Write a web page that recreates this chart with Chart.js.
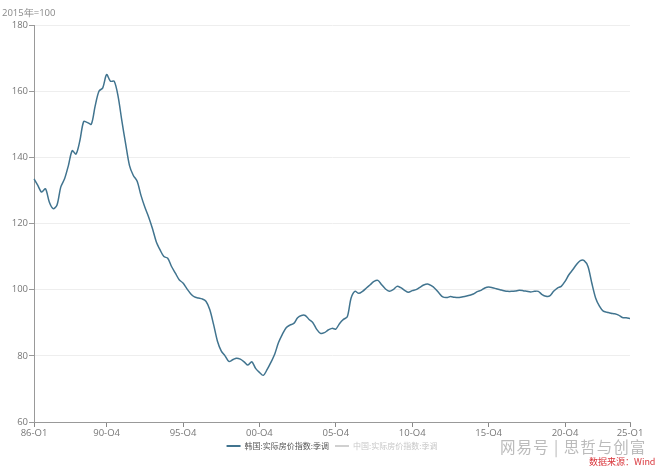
<!DOCTYPE html>
<html><head><meta charset="utf-8">
<script src="https://cdn.jsdelivr.net/npm/chart.js@4.4.1/dist/chart.umd.min.js"></script>
<style>
html,body{margin:0;padding:0;background:#fff;}
#wrap{position:relative;width:660px;height:469px;}
#unit{position:absolute;left:2px;top:6px;font:9.5px "Open Sans","DejaVu Sans",sans-serif;color:#888;}
#wm{position:absolute;left:500px;top:435px;font:15.5px "Noto Sans CJK SC",sans-serif;color:#bbb;letter-spacing:1px;}
#src{position:absolute;left:589px;top:455px;font:9px "Noto Sans CJK SC",sans-serif;color:#d9353b;}
</style></head>
<body><div id="wrap"><canvas id="c" width="660" height="469"></canvas>
<div id="unit">2015年=100</div>
<div id="wm">网易号 | 思哲与创富</div>
<div id="src">数据来源：Wind</div></div>
<script>
const startYear = 1986, startQuarter = 1, endYear = 2025, endQuarter = 1;
const tickLabels = ["86-Q1","90-Q4","95-Q4","00-Q4","05-Q4","10-Q4","15-Q4","20-Q4","25-Q1"];
const seriesNames = ["韩国:实际房价指数:季调","中国:实际房价指数:季调"];
const koreaValues = [
133.5,131.5,129.5,130.5,126.5,124.5,125.5,131,133.5,137.5,
142,141,145,150.8,150.5,150,155.5,160,161,165,
163,163,158.5,151,144,137.5,134.5,132.8,128.5,125,
122,118.5,114.5,112,110,109.5,107,105,103,102,
100.3,98.8,97.8,97.5,97.2,96.5,94,89.5,84.5,81.5,
80,78.3,78.8,79.3,79,78.2,77.2,78.2,76.2,75,
74.1,75.8,78,80.5,84,86.5,88.5,89.3,89.8,91.5,
92.2,92.2,91,90,88,86.8,87,87.8,88.3,88.1,
89.8,91,91.8,97.5,99.5,98.9,99.5,100.5,101.5,102.5,
102.8,101.5,100.2,99.5,100,101,100.6,99.8,99.2,99.7,
100,100.7,101.4,101.7,101.2,100.3,99,97.8,97.6,97.9,
97.7,97.6,97.8,98,98.3,98.7,99.4,99.8,100.5,100.8,
100.6,100.3,100,99.7,99.5,99.5,99.6,99.8,99.7,99.5,
99.3,99.5,99.5,98.5,98,98.1,99.5,100.5,101,102.5,
104.5,106,107.6,108.8,108.8,107,102,97.5,95,93.5,
93.2,92.9,92.7,92.3,91.6,91.5,91.3];
const chinaValues = [];

const categories = [];
for (let y = startYear, q = startQuarter; y < endYear || (y === endYear && q <= endQuarter); ) {
  categories.push(String(y % 100).padStart(2,'0') + '-Q' + q);
  q++; if (q > 4) { q = 1; y++; }
}

const lineColor = '#41748f';
const font = {family: '"Open Sans","DejaVu Sans",sans-serif', size: 9.5};

const legendShift = {
  id: 'legendShift',
  afterLayout(chart) {
    if (chart.legend) { chart.legend.left += 17; chart.legend.right += 17; }
  }
};

new Chart(document.getElementById('c'), {
  type: 'line',
  plugins: [legendShift],
  data: {
    labels: categories,
    datasets: [
      {label: seriesNames[0], data: koreaValues, borderColor: lineColor, backgroundColor: lineColor,
       borderWidth: 1.5, pointRadius: 0, tension: 0.3, fill: false},
      {label: seriesNames[1], data: chinaValues, borderColor: '#d0d0d0', backgroundColor: '#d0d0d0',
       borderWidth: 1.2, pointRadius: 0}
    ]
  },
  options: {
    responsive: false, animation: false,
    layout: {padding: {left: 0, right: 30, top: 25, bottom: 9}},
    plugins: {
      tooltip: {enabled: false},
      legend: {
        position: 'bottom',
        labels: {
          usePointStyle: true, pointStyle: 'line', boxWidth: 14, pointStyleWidth: 14, padding: 6,
          font: {family: '"Noto Sans CJK SC",sans-serif', size: 8},
          generateLabels(chart) {
            return chart.data.datasets.map((d, i) => ({
              text: d.label, fillStyle: d.borderColor, strokeStyle: d.borderColor,
              lineWidth: 2, pointStyle: 'line', hidden: false, datasetIndex: i,
              fontColor: i === 0 ? '#555' : '#c8c8c8'
            }));
          }
        }
      }
    },
    scales: {
      x: {
        type: 'category', offset: false,
        afterFit(scale) { scale.height = 14; },
        grid: {drawOnChartArea: false, drawTicks: true, tickLength: 5,
          color: (ctx) => (ctx.tick && tickLabels.includes(ctx.tick.label) ? '#888' : 'rgba(0,0,0,0)')},
        border: {color: '#999', width: 1},
        ticks: {autoSkip: false, maxRotation: 0, minRotation: 0, color: '#777', font: font, padding: 1,
          callback: function(v, i) { const l = this.getLabelForValue(v); return tickLabels.includes(l) ? l : ''; }}
      },
      y: {
        min: 60, max: 180,
        afterFit(scale) { scale.width = 34; },
        grid: {color: '#eeeeee', tickLength: 5, tickColor: '#999'},
        border: {color: '#999', width: 1},
        ticks: {stepSize: 20, color: '#777', font: font, padding: 1}
      }
    }
  }
});
</script>
</body></html>
